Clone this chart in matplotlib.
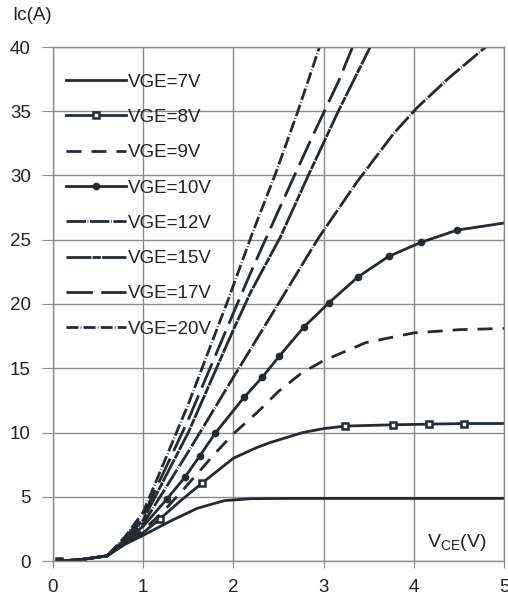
import matplotlib
matplotlib.use("Agg")
import matplotlib.pyplot as plt

plt.rcParams['font.family'] = ['Liberation Sans', 'DejaVu Sans']

C = '#232a32'

labels = ['VGE=7V', 'VGE=8V', 'VGE=9V', 'VGE=10V', 'VGE=12V', 'VGE=15V', 'VGE=17V', 'VGE=20V']

x7 = [0.07, 0.3, 0.6, 0.8, 1.0, 1.3, 1.6, 1.9, 2.2, 2.6, 3.0, 4.0, 5.0]
y7 = [0.0, 0.1, 0.4, 1.3, 2.0, 3.1, 4.1, 4.7, 4.85, 4.87, 4.87, 4.87, 4.87]

x8 = [0.07, 0.3, 0.6, 0.8, 1.0, 1.19, 1.4, 1.65, 2.0, 2.25, 2.4, 2.77, 3.0, 3.24, 3.77, 4.17, 4.56, 5.0]
y8 = [0.0, 0.1, 0.4, 1.4, 2.2, 3.3, 4.6, 6.05, 8.0, 8.8, 9.2, 10.0, 10.3, 10.5, 10.6, 10.65, 10.7, 10.7]

x9 = [0.07, 0.3, 0.6, 0.8, 1.0, 1.2, 1.4, 1.6, 1.8, 2.0, 2.27, 2.5, 2.75, 3.0, 3.47, 4.0, 4.5, 5.0]
y9 = [0.0, 0.1, 0.4, 1.5, 2.4, 3.7, 5.2, 6.8, 8.4, 9.9, 11.6, 13.2, 14.6, 15.6, 17.0, 17.75, 18.0, 18.1]

x10 = [0.07, 0.3, 0.6, 0.8, 1.0, 1.26, 1.46, 1.63, 1.8, 2.12, 2.32, 2.51, 2.78, 3.06, 3.38, 3.72, 4.08, 4.48, 5.0]
y10 = [0.0, 0.1, 0.4, 1.6, 2.7, 4.8, 6.5, 8.2, 9.96, 12.75, 14.3, 15.95, 18.2, 20.1, 22.1, 23.7, 24.8, 25.75, 26.3]

x12 = [0.07, 0.3, 0.6, 0.8, 1.0, 1.5, 2.0, 2.54, 2.94, 3.37, 3.78, 4.04, 4.39, 4.78, 5.0]
y12 = [0.0, 0.1, 0.4, 1.6, 2.9, 8.5, 14.3, 20.5, 25.1, 29.5, 33.3, 35.3, 37.6, 39.9, 41.0]

x15 = [0.07, 0.3, 0.6, 0.8, 1.0, 1.5, 2.0, 2.19, 2.52, 2.83, 3.17, 3.51, 3.6]
y15 = [0.0, 0.1, 0.4, 1.7, 3.2, 10.0, 18.0, 20.9, 25.2, 30.0, 35.1, 39.9, 41.2]

x17 = [0.07, 0.3, 0.6, 0.8, 1.0, 1.5, 2.0, 2.22, 2.54, 2.86, 3.17, 3.35]
y17 = [0.0, 0.1, 0.4, 1.8, 3.5, 11.0, 19.3, 22.9, 27.9, 32.8, 37.4, 40.5]

x20 = [0.07, 0.3, 0.6, 0.8, 1.0, 1.5, 1.94, 2.21, 2.47, 2.71, 2.95, 3.0]
y20 = [0.0, 0.1, 0.4, 1.9, 3.8, 12.2, 20.3, 25.5, 30.2, 34.9, 39.9, 41.0]

xticks = [0, 1, 2, 3, 4, 5]
yticks = [0, 5, 10, 15, 20, 25, 30, 35, 40]

FS = 13.5

fig = plt.figure(figsize=(5.08, 5.98), dpi=100)
ax = fig.add_axes([53/508, 37/598, 451/508, 514/598])

lw = 2.0
ax.plot(x7, y7, color=C, lw=lw, label=labels[0])
ax.plot(x8, y8, color=C, lw=lw, marker='s', ms=5, mfc='white', mec=C, mew=1.8,
        markevery=[0, 5, 7, 13, 14, 15, 16], label=labels[1])
ax.plot(x9, y9, color=C, lw=lw, ls=(0, (5.4, 3.6)), label=labels[2])
ax.plot(x10, y10, color=C, lw=lw, marker='o', ms=4.5,
        markevery=[0] + list(range(5, 18)), label=labels[3])
ax.plot(x12, y12, color=C, lw=lw, ls=(0, (7, 0.6, 0.25, 0.6)), label=labels[4])
ax.plot(x15, y15, color=C, lw=lw, ls=(0, (9, 0.4, 3, 0.4)), label=labels[5])
ax.plot(x17, y17, color=C, lw=lw, ls=(0, (9.5, 3)), label=labels[6])
ax.plot(x20, y20, color=C, lw=lw, ls=(0, (4.3, 0.8, 0.25, 0.8)), label=labels[7])

ax.set_xlim(0, 5)
ax.set_ylim(0, 40)
ax.set_xticks(xticks)
ax.set_yticks(yticks)
ax.grid(True, color='#8a8a8a', lw=1.0)
ax.set_axisbelow(True)
for s in ax.spines.values():
    s.set_color('#8a8a8a')
    s.set_linewidth(1.0)
ax.tick_params(axis='y', length=8, color='#8a8a8a', labelsize=FS, pad=8, labelcolor='#222')
ax.tick_params(axis='x', length=5, color='#8a8a8a', labelsize=FS, pad=8, labelcolor='#222')

fig.text(12/508, 1 - 16/598, 'Ic(A)', fontsize=FS, va='center', ha='left', color='#222')
ax.text(4.48, 1.45, r'$\mathregular{V_{CE}(V)}$', fontsize=14, ha='center', va='center', color='#222')

leg = ax.legend(loc='upper left', bbox_to_anchor=(0.0, 0.974), frameon=False,
                handlelength=3.2, handletextpad=0.1, labelspacing=0.97,
                borderaxespad=0.4, fontsize=FS, borderpad=0.3)
for t in leg.get_texts():
    t.set_color('#222')

fig.savefig('out.png', dpi=100)
